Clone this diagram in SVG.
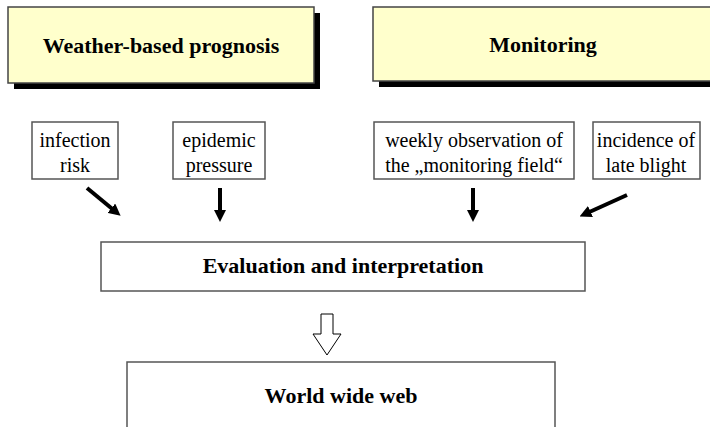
<svg xmlns="http://www.w3.org/2000/svg" width="710" height="427" viewBox="0 0 710 427">
<style>
.hdr{fill:#FFFFCC;stroke:#444;stroke-width:1.5}
.shd{fill:#000}
.box{fill:#fff;stroke:#555;stroke-width:1.5}
text{font-family:'Liberation Serif','Times New Roman','DejaVu Serif',serif;fill:#000;text-anchor:middle}
.b{font-weight:bold;font-size:22px}
.r{font-size:20px}
.arr{stroke:#000;stroke-width:4;fill:none;marker-end:url(#ah)}
</style>
<defs>
<marker id="ah" markerWidth="3" markerHeight="3" refX="1.5" refY="1.5" orient="auto" markerUnits="strokeWidth" viewBox="0 0 3 3">
<path d="M0,0 L3,1.5 L0,3 z" fill="#000"/>
</marker>
</defs>
<rect width="710" height="427" fill="#fff"/>
<g id="weather">
<rect class="shd" x="14" y="13" width="306" height="76"/>
<rect class="hdr" x="8" y="7" width="306" height="76"/>
<text class="b" x="161" y="53" font-family="Liberation Serif, serif">Weather-based prognosis</text>
</g>
<g id="monitoring">
<rect class="shd" x="379" y="13" width="345" height="74"/>
<rect class="hdr" x="373" y="7" width="345" height="74"/>
<text class="b" x="543" y="52" font-family="Liberation Serif, serif">Monitoring</text>
</g>
<g id="infection">
<rect class="box" x="32" y="122" width="86" height="57"/>
<text class="r" x="75" y="147" font-family="Liberation Serif, serif">infection</text>
<text class="r" x="75" y="172" font-family="Liberation Serif, serif">risk</text>
</g>
<g id="epidemic">
<rect class="box" x="173" y="122" width="92" height="57"/>
<text class="r" x="219" y="147" font-family="Liberation Serif, serif">epidemic</text>
<text class="r" x="219" y="172" font-family="Liberation Serif, serif">pressure</text>
</g>
<g id="weekly">
<rect class="box" x="374" y="122" width="200" height="57"/>
<text class="r" x="474" y="147" font-family="Liberation Serif, serif">weekly observation of</text>
<text class="r" x="474" y="172" font-family="Liberation Serif, serif">the „monitoring field“</text>
</g>
<g id="incidence">
<rect class="box" x="593" y="122" width="107" height="57"/>
<text class="r" x="646" y="147" font-family="Liberation Serif, serif">incidence of</text>
<text class="r" x="646" y="172" font-family="Liberation Serif, serif">late blight</text>
</g>
<g id="evaluation">
<rect class="box" x="101" y="242" width="484" height="49"/>
<text class="b" x="343" y="273" font-family="Liberation Serif, serif">Evaluation and interpretation</text>
</g>
<g id="www">
<rect class="box" x="127" y="362" width="428" height="80"/>
<text class="b" x="341" y="403" font-family="Liberation Serif, serif">World wide web</text>
</g>
<g id="connectors">
<line class="arr" x1="87" y1="188" x2="116" y2="212"/>
<line class="arr" x1="220" y1="188" x2="220" y2="216"/>
<line class="arr" x1="473" y1="188" x2="473" y2="216"/>
<line class="arr" x1="627" y1="195" x2="585" y2="214"/>
<path d="M321,314 H333 V334 H341 L327,355 L313,334 H321 Z" fill="#fff" stroke="#000" stroke-width="1"/>
</g>
</svg>
